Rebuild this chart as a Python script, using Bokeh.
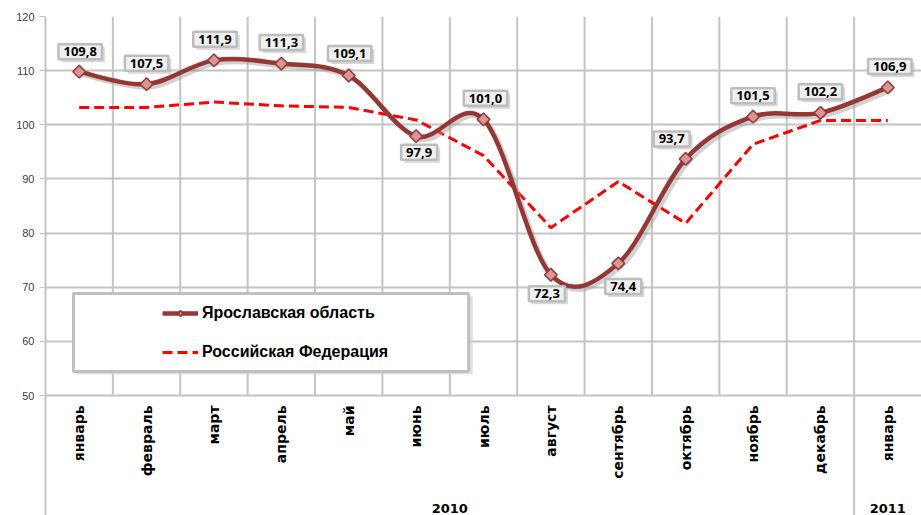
import numpy as np
from bokeh.plotting import figure
from bokeh.models import (Range1d, FixedTicker, ColumnDataSource,
                          Legend, LegendItem)
from bokeh.core.properties import value
from bokeh.embed import file_html
from bokeh.resources import INLINE

# ---------------- data ----------------
months = ["январь", "февраль", "март", "апрель", "май", "июнь", "июль",
          "август", "сентябрь", "октябрь", "ноябрь", "декабрь", "январь"]
year_labels = ["2010", "2011"]
year_of_month = [0] * 12 + [1]
yaroslavl = [109.8, 107.5, 111.9, 111.3, 109.1, 97.9, 101.0,
             72.3, 74.4, 93.7, 101.5, 102.2, 106.9]
russia = [103.2, 103.2, 104.2, 103.5, 103.2, 100.9, 94.3,
          81.0, 89.5, 81.8, 96.4, 100.8, 100.8]
y_ticks = [50, 60, 70, 80, 90, 100, 110, 120]
series_names = ["Ярославская область", "Российская Федерация"]

# label placement (screen px offsets, styling only)
label_dx = [1, 0, 1, 0, 1, 3, 2, -4, 5, -14, 0, 0, 2]
label_dy = [-20, -21, -21, -21, -22, 16, -21, 19, 23, -20, -21, -21, -21]

# ---------------- geometry ----------------
W, H = 921, 515
top_px, axis_px = 16, 395          # pixel rows of 120 and 50
y_lo, y_hi = y_ticks[0], y_ticks[-1]
y_start = y_hi - (y_hi - y_lo) * (H - top_px) / (axis_px - top_px)  # frame reaches bottom

n = len(months)
xs = np.arange(n) + 0.5                      # category centres
bounds = np.arange(1, n)                     # category boundaries
year_idx = np.array(year_of_month)
year_centres = [float(xs[year_idx == k].mean()) for k in range(len(year_labels))]
year_seps = [int(np.argmax(year_idx == k)) for k in range(1, len(year_labels))]

p = figure(width=W, height=H, x_range=Range1d(0, n), y_range=Range1d(y_start, y_hi),
           output_backend="svg", toolbar_location=None, x_axis_location=None,
           min_border_left=45, min_border_top=top_px, min_border_bottom=0,
           min_border_right=0)
p.outline_line_color = None
p.background_fill_color = "white"

grid_col = "#c4c4c4"
p.xgrid.grid_line_color = None
p.ygrid.ticker = FixedTicker(ticks=y_ticks)
p.ygrid.grid_line_color = grid_col
p.ygrid.grid_line_width = 2

# y axis (its line runs to the bottom, as in the original)
p.yaxis.ticker = FixedTicker(ticks=y_ticks)
p.yaxis.axis_line_color = grid_col
p.yaxis.axis_line_width = 2
p.yaxis.major_tick_line_color = grid_col
p.yaxis.major_tick_out = 6
p.yaxis.major_tick_in = 0
p.yaxis.minor_tick_line_color = None
p.yaxis.major_label_text_font = "Liberation Sans"
p.yaxis.major_label_text_font_size = "11px"
p.yaxis.major_label_text_color = "#404040"
p.yaxis.major_label_standoff = 5

# vertical grid lines between categories (plot area only) and year separator
p.segment(x0=bounds, y0=[y_lo] * len(bounds), x1=bounds, y1=[y_hi] * len(bounds),
          line_color=grid_col, line_width=2)
p.segment(x0=year_seps, y0=[y_start] * len(year_seps), x1=year_seps,
          y1=[y_lo] * len(year_seps), line_color=grid_col, line_width=2)

# category (month) labels and year labels
p.text(x=xs, y=[y_lo] * n, text=months, angle=np.pi / 2, y_offset=10,
       text_align="right", text_baseline="middle",
       text_font=value("DejaVu Sans"), text_font_style="bold",
       text_font_size="14px", text_color="black")
p.text(x=year_centres, y=[y_lo] * len(year_centres), text=year_labels, y_offset=113,
       text_align="center", text_baseline="middle",
       text_font=value("DejaVu Sans"), text_font_style="bold",
       text_font_size="13px", text_color="black")

# legend frame
p.quad(left=[0.47], right=[6.34], top=[68.3], bottom=[53.9],
       fill_color="#d4d4d4", fill_alpha=0.7, line_color=None)
p.quad(left=[0.415], right=[6.28], top=[68.85], bottom=[54.45],
       fill_color="white", line_color="#bfbfbf", line_width=3)

# ---------------- series ----------------
line_color = "#953735"
ys = np.array(yaroslavl, dtype=float)
i0 = np.arange(n - 1)
i1 = i0 + 1
prev_i = np.clip(i0 - 1, 0, n - 1)
next_i = np.clip(i0 + 2, 0, n - 1)
bez = dict(
    x0=xs[i0], y0=ys[i0], x1=xs[i1], y1=ys[i1],
    cx0=xs[i0] + (xs[i1] - xs[prev_i]) / 6, cy0=ys[i0] + (ys[i1] - ys[prev_i]) / 6,
    cx1=xs[i1] - (xs[next_i] - xs[i0]) / 6, cy1=ys[i1] - (ys[next_i] - ys[i0]) / 6,
)
# soft drop shadow (offset of ~3px right / 3px down)
sdx, sdy = 3 / 67.4, -3 / 5.414
bez_shadow = {k: (v + (sdx if k.startswith(("x", "cx")) else sdy)) for k, v in bez.items()}

russia_r = p.line(x=xs, y=russia, line_color="#ff0000", line_width=3,
                  line_dash="10 5")

p.bezier(x0="x0", y0="y0", x1="x1", y1="y1", cx0="cx0", cy0="cy0",
         cx1="cx1", cy1="cy1", source=ColumnDataSource(bez_shadow),
         line_color="#9a9a9a", line_alpha=0.45, line_width=4.5, line_cap="round")
p.bezier(x0="x0", y0="y0", x1="x1", y1="y1", cx0="cx0", cy0="cy0",
         cx1="cx1", cy1="cy1", source=ColumnDataSource(bez), line_color=line_color,
         line_width=4.5, line_cap="round")
legend_line = p.line(x=xs, y=yaroslavl, line_color=line_color, line_width=4.5,
                     visible=False)
marker_r = p.scatter(x=xs, y=yaroslavl, marker="square", angle=np.pi / 4, size=9,
                     fill_color="#d99694", line_color=line_color, line_width=1.5)
legend_marker = p.scatter(x=xs, y=yaroslavl, marker="diamond", size=12,
                          fill_color="#d99694", line_color=line_color,
                          line_width=1.5, visible=False)

labels = ColumnDataSource(dict(
    x=xs, y=yaroslavl,
    text=[f"{v:.1f}".replace(".", ",") for v in yaroslavl],
    dx=label_dx, dy=label_dy,
    sx=[d + 3 for d in label_dx], sy=[d + 3 for d in label_dy],
))
box_pad = dict(left=5, right=5, top=3, bottom=3)
p.text(x="x", y="y", text="text", x_offset="sx", y_offset="sy", source=labels,
       text_align="center", text_baseline="middle",
       text_font=value("Open Sans"), text_font_style="bold",
       text_font_size="13px", text_alpha=0,
       background_fill_color="#a8a8a8", background_fill_alpha=0.45,
       border_line_color=None, padding=box_pad)
p.text(x="x", y="y", text="text", x_offset="dx", y_offset="dy", source=labels,
       text_align="center", text_baseline="middle",
       text_font=value("Open Sans"), text_font_style="bold",
       text_font_size="13px", text_color="black",
       background_fill_color="#f0f0f0", border_line_color="#bdbdbd",
       border_line_width=2.5, padding=box_pad)

legend = Legend(items=[
    LegendItem(label=series_names[0], renderers=[legend_line, legend_marker]),
    LegendItem(label=series_names[1], renderers=[russia_r]),
], location=(117, H - 361), orientation="vertical",
    glyph_width=36, glyph_height=16, label_standoff=4, spacing=21,
    padding=0, margin=0, background_fill_alpha=0, border_line_alpha=0,
    inactive_fill_alpha=0,
    label_text_font="Liberation Sans", label_text_font_size="16px",
    label_text_font_style="bold", label_text_color="black")
p.add_layout(legend, "center")

open("out.html", "w").write(file_html(p, INLINE))
